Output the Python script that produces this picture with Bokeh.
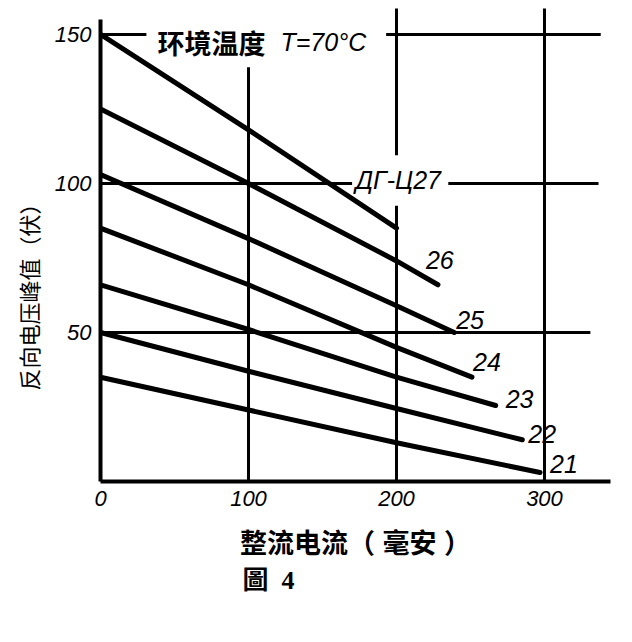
from bokeh.plotting import figure
from bokeh.models import Range1d, FixedTicker, ColumnDataSource, Label, Title
from bokeh.core.properties import value
from bokeh.embed import file_html
from bokeh.resources import INLINE

# ---- data ----
x_ticks = [0, 100, 200, 300]
y_ticks = [50, 100, 150]

c27_x = [0, 100, 200]
c27_y = [150, 118, 85]
c26_x = [0, 100, 200, 228]
c26_y = [125, 100, 74, 66]
c25_x = [0, 100, 200, 239]
c25_y = [103, 81.5, 59, 50]
c24_x = [0, 100, 200, 251]
c24_y = [85, 66, 45, 35]
c23_x = [0, 100, 200, 267]
c23_y = [66, 51, 35, 25.5]
c22_x = [0, 100, 200, 285]
c22_y = [50, 37, 24.5, 14]
c21_x = [0, 100, 200, 297]
c21_y = [35, 24, 13, 3]
curve_numbers = ["26", "25", "24", "23", "22", "21"]

grid_v_x = [100, 200, 200, 300]
grid_v_from = [0, 0, 109.5, 0]
grid_v_to = [139, 92.5, 160, 160]
grid_h_y = [150, 150, 100, 100, 50]
grid_h_from = [0, 193, 0, 235, 0]
grid_h_to = [31, 338, 170, 336.5, 331]

TICK_FONT = "Liberation Sans"
CJK_BOLD = "Liberation Sans, Noto Sans CJK SC"

# ---- figure ----
p = figure(width=616, height=626,
           x_range=Range1d(0, 344.6), y_range=Range1d(0, 158.7),
           output_backend="svg", toolbar_location=None,
           min_border_left=100, min_border_right=6,
           min_border_top=8, min_border_bottom=145)
p.grid.visible = False
p.outline_line_color = None
p.background_fill_color = "white"
p.border_fill_color = "white"

p.xaxis.ticker = FixedTicker(ticks=x_ticks)
p.yaxis.ticker = FixedTicker(ticks=y_ticks)
p.yaxis.bounds = (0, 155)
for ax in (p.xaxis[0], p.yaxis[0]):
    ax.axis_line_width = 4
    ax.axis_line_color = "black"
    ax.major_tick_in = 0
    ax.major_tick_out = 0
    ax.minor_tick_in = 0
    ax.minor_tick_out = 0
    ax.major_label_text_font = TICK_FONT
    ax.major_label_text_font_style = "italic"
    ax.major_label_text_font_size = "22px"
    ax.major_label_text_color = "black"
p.xaxis.major_label_standoff = 9
p.yaxis.major_label_standoff = 9

p.xaxis.axis_label = "整流电流（ 毫安 ）"
p.xaxis.axis_label_text_font = CJK_BOLD
p.xaxis.axis_label_text_font_style = "bold"
p.xaxis.axis_label_text_font_size = "27px"
p.xaxis.axis_label_text_color = "black"
p.xaxis.axis_label_standoff = 20

# y-axis title, set lower than the frame centre as in the reference
p.add_layout(Title(text="反向电压峰值（伏）", align="left", offset=91, standoff=15,
                   text_font="Noto Sans CJK SC", text_font_size="22px",
                   text_font_style="normal", text_color="black"), "left")
# figure caption, pushed to the bottom of the remaining border space
p.add_layout(Title(text="圖\u00a0\u00a04", align="left", offset=142, standoff=4,
                   vertical_align="bottom",
                   text_font="Liberation Serif, Noto Sans CJK TC",
                   text_font_size="26px", text_font_style="bold",
                   text_color="black"), "below")

# grid lines
p.segment(x0=grid_v_x, y0=grid_v_from, x1=grid_v_x, y1=grid_v_to,
          line_width=3, line_color="black")
p.segment(x0=grid_h_from, y0=grid_h_y, x1=grid_h_to, y1=grid_h_y,
          line_width=3, line_color="black")

# curves
curves = [(c27_x, c27_y), (c26_x, c26_y), (c25_x, c25_y), (c24_x, c24_y),
          (c23_x, c23_y), (c22_x, c22_y), (c21_x, c21_y)]
for cx, cy in curves:
    p.line(cx, cy, line_width=5, line_color="black", line_cap="round")

# curve number labels at curve ends
ends = curves[1:]
src = ColumnDataSource(dict(
    x=[c[0][-1] for c in ends], y=[c[1][-1] for c in ends],
    t=curve_numbers,
    dx=[-12, 2, 1, 10, 6, 10], dy=[-25, -12, -15, -6, -6, -9]))
p.text(x="x", y="y", text="t", x_offset="dx", y_offset="dy", source=src,
       text_font=value(TICK_FONT), text_font_style="italic",
       text_font_size="25px", text_baseline="middle", text_align="left",
       text_color="black")

p.add_layout(Label(x=38.5, y=147.3, text="环境温度", text_font="Noto Sans CJK SC",
                   text_font_style="bold", text_font_size="27px",
                   text_baseline="middle", text_color="black"))
p.add_layout(Label(x=121.6, y=147.3, text="T=70°C", text_font=TICK_FONT,
                   text_font_style="italic", text_font_size="25px",
                   text_baseline="middle", text_color="black"))
p.add_layout(Label(x=172.3, y=101, text="ДГ-Ц27", text_font=TICK_FONT,
                   text_font_style="italic", text_font_size="25px",
                   text_baseline="middle", text_color="black"))

open("out.html", "w").write(file_html(p, INLINE))
